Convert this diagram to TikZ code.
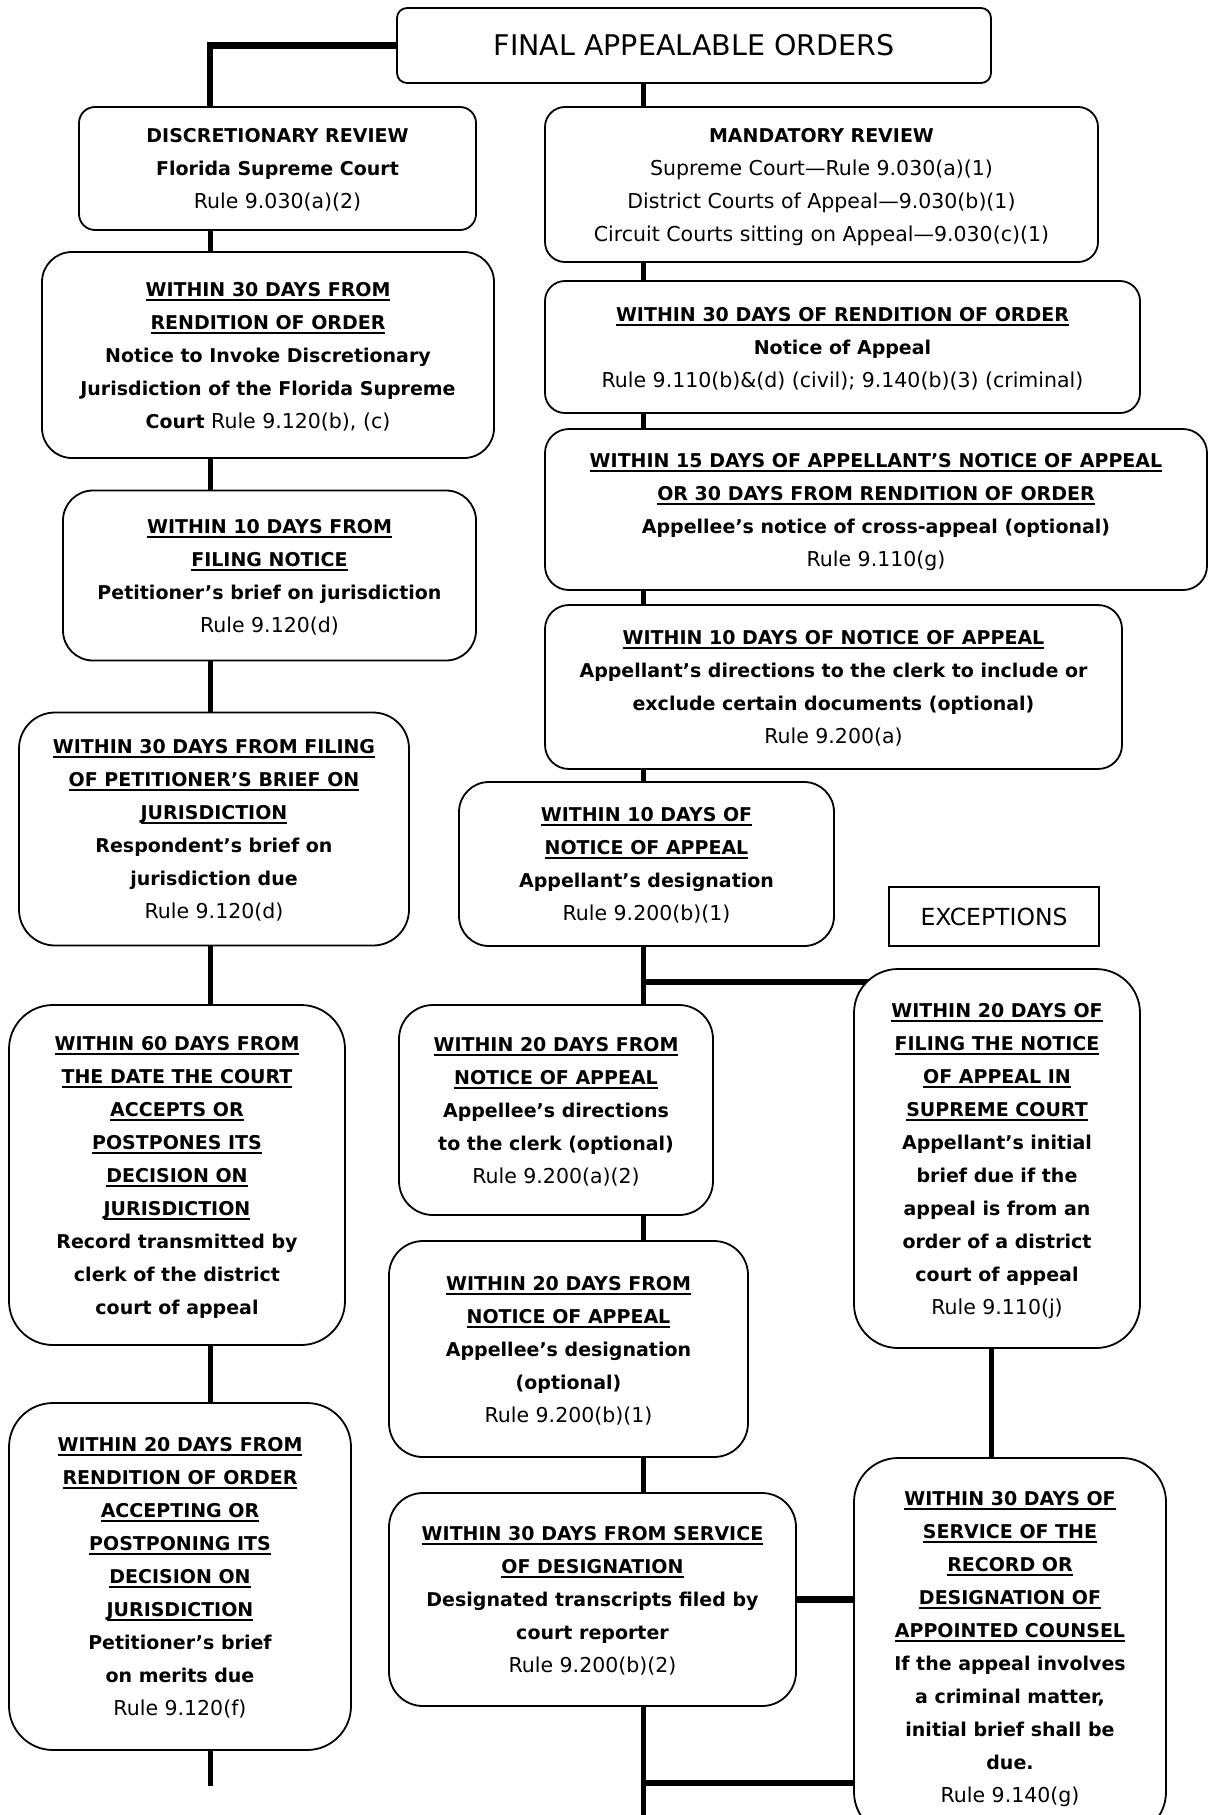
\documentclass[tikz,border=0pt]{standalone}
\usepackage{fontspec}
\setmainfont{DejaVu Sans}
\usetikzlibrary{backgrounds}

\newcommand{\hb}[1]{{\fontsize{19}{33}\selectfont\bfseries #1}}
\newcommand{\ulh}[1]{\setbox0=\hbox{\fontsize{19}{33}\selectfont\bfseries #1}%
  \rlap{\rule[-4.5pt]{\wd0}{1.6pt}}\box0}

\begin{document}
\begin{tikzpicture}[
    x=1pt, y=-1pt,
    card/.style={rectangle, draw, line width=1.8pt, fill=white,
      rounded corners=16pt, align=center, inner sep=0pt,
      font=\fontsize{20.5}{33}\selectfont, text depth=-2pt},
    wide/.style={card, rounded corners=30pt},
    tall/.style={card, rounded corners=44pt},
    link/.style={line width=5pt},
    branch/.style={line width=6.5pt},
]
\useasboundingbox (0,0) rectangle (1209,1815);

% ── Title ──
\node[card, rounded corners=10pt, minimum width=594pt, minimum height=75pt,
  font=\fontsize{28.5}{33}\selectfont, text depth=] (orders) at (694,45.5)
  {FINAL APPEALABLE ORDERS};

% ── Discretionary review column ──
\node[card, minimum width=397pt, minimum height=123pt] (disc) at (277.5,168.5)
  {\hb{DISCRETIONARY REVIEW}\\\hb{Florida Supreme Court}\\
  Rule 9.030(a)(2)};

\node[wide, minimum width=452pt, minimum height=206pt] (invoke) at (268,355)
  {\ulh{WITHIN 30 DAYS FROM}\\\ulh{RENDITION OF ORDER}\\
  \hb{Notice to Invoke Discretionary}\\
  \hb{Jurisdiction of the Florida Supreme}\\
  \hb{Court} Rule 9.120(b), (c)};

\node[wide, minimum width=413pt, minimum height=170pt] (petjur) at (269.5,575.5)
  {\ulh{WITHIN 10 DAYS FROM}\\\ulh{FILING NOTICE}\\
  \hb{Petitioner’s brief on jurisdiction}\\Rule 9.120(d)};

\node[wide, rounded corners=36pt, minimum width=390pt, minimum height=233pt]
  (respjur) at (214,829)
  {\ulh{WITHIN 30 DAYS FROM FILING}\\\ulh{OF PETITIONER’S BRIEF ON}\\
  \ulh{JURISDICTION}\\\hb{Respondent’s brief on}\\
  \hb{jurisdiction due}\\Rule 9.120(d)};

\node[tall, minimum width=336pt, minimum height=340pt] (record) at (177,1175)
  {\ulh{WITHIN 60 DAYS FROM}\\\ulh{THE DATE THE COURT}\\\ulh{ACCEPTS OR}\\
  \ulh{POSTPONES ITS}\\\ulh{DECISION ON}\\\ulh{JURISDICTION}\\
  \hb{Record transmitted by}\\\hb{clerk of the district}\\
  \hb{court of appeal}};

\node[tall, minimum width=342pt, minimum height=347pt] (merits) at (180,1576.5)
  {\ulh{WITHIN 20 DAYS FROM}\\\ulh{RENDITION OF ORDER}\\\ulh{ACCEPTING OR}\\
  \ulh{POSTPONING ITS}\\\ulh{DECISION ON}\\\ulh{JURISDICTION}\\
  \hb{Petitioner’s brief}\\\hb{on merits due}\\Rule 9.120(f)};

% ── Mandatory review column ──
\node[card, rounded corners=20pt, minimum width=553pt, minimum height=155pt]
  (mand) at (821.5,184.5)
  {\hb{MANDATORY REVIEW}\\Supreme Court—Rule 9.030(a)(1)\\
  District Courts of Appeal—9.030(b)(1)\\
  Circuit Courts sitting on Appeal—9.030(c)(1)};

\node[card, rounded corners=20pt, minimum width=595pt, minimum height=132pt]
  (notice) at (842.5,347)
  {\ulh{WITHIN 30 DAYS OF RENDITION OF ORDER}\\\hb{Notice of Appeal}\\
  Rule 9.110(b)\&(d) (civil); 9.140(b)(3) (criminal)};

\node[card, rounded corners=24pt, minimum width=662pt, minimum height=161pt]
  (cross) at (876,509.5)
  {\ulh{WITHIN 15 DAYS OF APPELLANT’S NOTICE OF APPEAL}\\
  \ulh{OR 30 DAYS FROM RENDITION OF ORDER}\\
  \hb{Appellee’s notice of cross-appeal (optional)}\\Rule 9.110(g)};

\node[card, rounded corners=24pt, minimum width=577pt, minimum height=164pt]
  (dirs) at (833.5,687)
  {\ulh{WITHIN 10 DAYS OF NOTICE OF APPEAL}\\
  \hb{Appellant’s directions to the clerk to include or}\\
  \hb{exclude certain documents (optional)}\\Rule 9.200(a)};

\node[wide, minimum width=375pt, minimum height=164pt] (desig) at (646.5,864)
  {\ulh{WITHIN 10 DAYS OF}\\\ulh{NOTICE OF APPEAL}\\
  \hb{Appellant’s designation}\\Rule 9.200(b)(1)};

\node[wide, rounded corners=34pt, minimum width=314pt, minimum height=210pt]
  (appdirs) at (556,1110)
  {\ulh{WITHIN 20 DAYS FROM}\\\ulh{NOTICE OF APPEAL}\\
  \hb{Appellee’s directions}\\\hb{to the clerk (optional)}\\
  Rule 9.200(a)(2)};

\node[wide, rounded corners=34pt, minimum width=359pt, minimum height=216pt]
  (appdesig) at (568.5,1349)
  {\ulh{WITHIN 20 DAYS FROM}\\\ulh{NOTICE OF APPEAL}\\
  \hb{Appellee’s designation}\\\hb{(optional)}\\Rule 9.200(b)(1)};

\node[wide, rounded corners=34pt, minimum width=407pt, minimum height=213pt]
  (transcr) at (592.5,1599.5)
  {\ulh{WITHIN 30 DAYS FROM SERVICE}\\\ulh{OF DESIGNATION}\\
  \hb{Designated transcripts filed by}\\\hb{court reporter}\\
  Rule 9.200(b)(2)};

% ── Exceptions ──
\node[rectangle, draw, line width=1.8pt, fill=white, minimum width=210pt,
  minimum height=59pt, font=\fontsize{23.5}{28}\selectfont] (exc) at (994,916.5)
  {EXCEPTIONS};

\node[tall, minimum width=286pt, minimum height=379pt] (supreme) at (997,1158.5)
  {\ulh{WITHIN 20 DAYS OF}\\\ulh{FILING THE NOTICE}\\\ulh{OF APPEAL IN}\\
  \ulh{SUPREME COURT}\\\hb{Appellant’s initial}\\
  \hb{brief due if the}\\\hb{appeal is from an}\\
  \hb{order of a district}\\\hb{court of appeal}\\Rule 9.110(j)};

\node[tall, minimum width=312pt, minimum height=378pt] (criminal) at (1010,1647)
  {\ulh{WITHIN 30 DAYS OF}\\\ulh{SERVICE OF THE}\\\ulh{RECORD OR}\\
  \ulh{DESIGNATION OF}\\\ulh{APPOINTED COUNSEL}\\
  \hb{If the appeal involves}\\\hb{a criminal matter,}\\
  \hb{initial brief shall be}\\\hb{due.}\\Rule 9.140(g)};

% ── Connectors ──
\coordinate (spineL) at (210,0);
\coordinate (spineR) at (643,0);
\coordinate (spineX) at (991,0);
\coordinate (endL) at (210,1786);
\coordinate (endR) at (643,1820);
\coordinate (fork) at (643,982);
\coordinate (join) at (643,1783);

\begin{scope}[on background layer]
\draw[branch] (orders.west) -| (disc.north -| spineL);
\draw[link] (disc.south -| spineL) -- (invoke.north -| spineL);
\draw[link] (invoke.south -| spineL) -- (petjur.north -| spineL);
\draw[link] (petjur.south -| spineL) -- (respjur.north -| spineL);
\draw[link] (respjur.south -| spineL) -- (record.north -| spineL);
\draw[link] (record.south -| spineL) -- (merits.north -| spineL);
\draw[link] (merits.south -| spineL) -- (endL);

\draw[link] (orders.south -| spineR) -- (mand.north -| spineR);
\draw[link] (mand.south -| spineR) -- (notice.north -| spineR);
\draw[link] (notice.south -| spineR) -- (cross.north -| spineR);
\draw[link] (cross.south -| spineR) -- (dirs.north -| spineR);
\draw[link] (dirs.south -| spineR) -- (desig.north -| spineR);
\draw[link] (desig.south -| spineR) -- (appdirs.north -| spineR);
\draw[link] (appdirs.south -| spineR) -- (appdesig.north -| spineR);
\draw[link] (appdesig.south -| spineR) -- (transcr.north -| spineR);
\draw[link] (transcr.south -| spineR) -- (endR);

\draw[branch] (fork) -- (fork -| supreme.center);
\draw[link] (supreme.south -| spineX) -- (criminal.north -| spineX);
\draw[branch] (transcr.east) -- (criminal.center |- transcr.east);
\draw[branch] (join) -- (join -| criminal.center);
\end{scope}

\end{tikzpicture}
\end{document}
